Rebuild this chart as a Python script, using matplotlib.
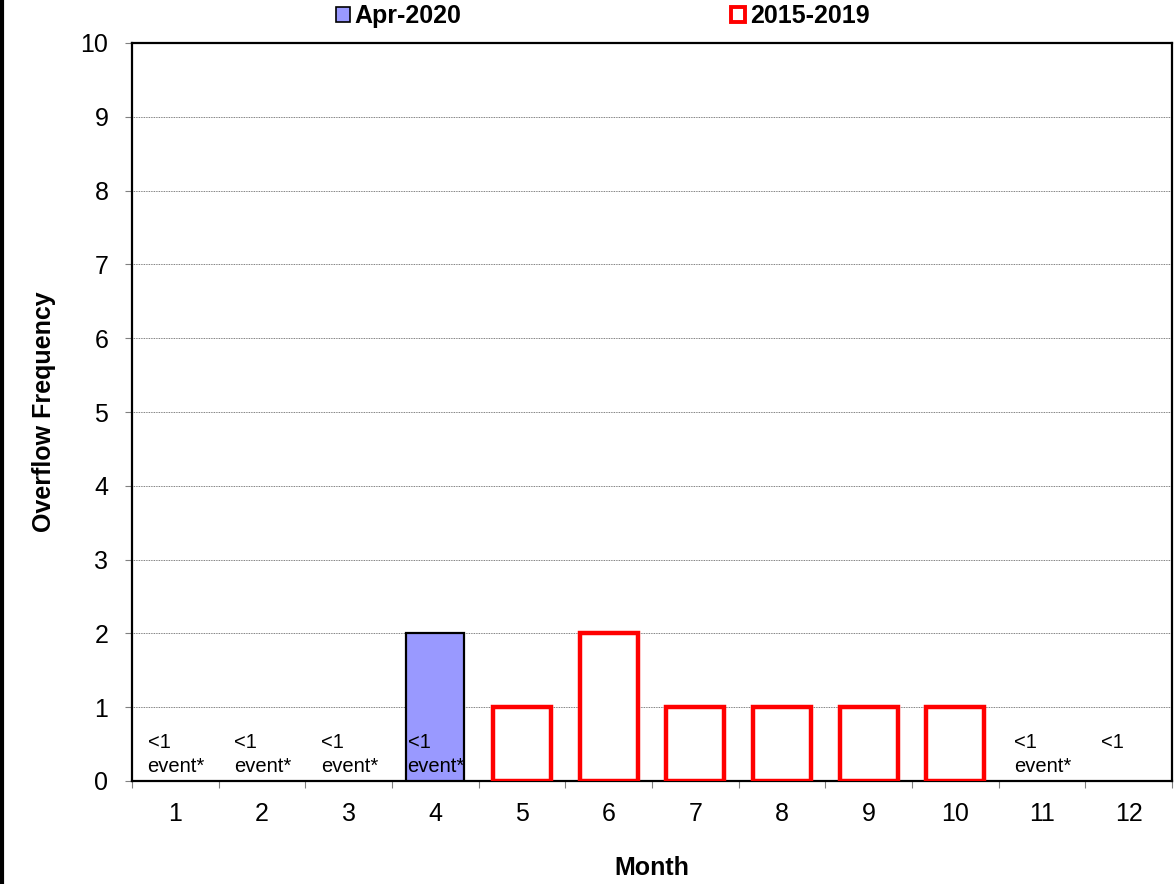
import matplotlib
matplotlib.use("Agg")
import matplotlib.pyplot as plt
from matplotlib.patches import Patch
from matplotlib.lines import Line2D
import numpy as np

months = list(range(1, 13))
apr2020 = [np.nan, np.nan, np.nan, 2, np.nan, np.nan, np.nan, np.nan, np.nan, np.nan, np.nan, np.nan]
hist_2015_2019 = [np.nan, np.nan, np.nan, np.nan, 1, 2, 1, 1, 1, 1, np.nan, np.nan]
notes = ["<1\nevent*", "<1\nevent*", "<1\nevent*", "<1\nevent*", "", "", "", "", "", "",
         "<1\nevent*", "<1"]
yticks = list(range(0, 11))

plt.rcParams['font.family'] = ['Liberation Sans', 'DejaVu Sans']

fig = plt.figure(figsize=(11.75, 8.84), dpi=100)
ax = fig.add_axes([132/1175, 1-781/884, (1172-132)/1175, (781-43)/884])

ax.bar(months, apr2020, width=0.67, color='#9999ff', edgecolor='black', linewidth=1.6, zorder=3)
ax.bar(months, hist_2015_2019, width=0.67, facecolor='white', edgecolor='#ff0000', linewidth=3.2, zorder=3)

for m, t in zip(months, notes):
    if t:
        ax.text(m - 0.32, 0.65, t, ha='left', va='top', fontsize=14.5, linespacing=1.32, zorder=4)

ax.set_xlim(0.5, 12.5)
ax.set_ylim(0, 10)
ax.set_yticks(yticks)
ax.set_xticks(months)
ax.set_xticks(np.arange(0.5, 13, 1), minor=True)
ax.tick_params(axis='x', which='major', length=0, pad=15, labelsize=18)
ax.tick_params(axis='x', which='minor', length=5, color='#808080', width=0.8)
ax.tick_params(axis='y', which='major', length=5, color='#808080', width=0.8, pad=12, labelsize=18)
ax.yaxis.grid(True, linestyle=(0, (1, 1)), color='#555555', linewidth=0.6, zorder=0)
ax.set_axisbelow(True)
for s in ax.spines.values():
    s.set_linewidth(1.6)
    s.set_color('black')

ax.set_xlabel("Month", fontsize=18, fontweight='bold', labelpad=22)
ax.set_ylabel("Overflow Frequency", fontsize=18, fontweight='bold', labelpad=18)

handles = [Patch(facecolor='#9999ff', edgecolor='black', linewidth=1.2),
           Patch(facecolor='white', edgecolor='#ff0000', linewidth=2.8)]
fig.legend(handles, ["Apr-2020", "2015-2019"], loc='center', bbox_to_anchor=(0.513, 1-16/884),
           ncol=2, frameon=False, prop={'weight': 'bold', 'size': 18},
           handlelength=0.55, handleheight=0.55, handletextpad=0.2, columnspacing=10.8)

fig.add_artist(Line2D([0.0015, 0.0015], [0, 1], transform=fig.transFigure, color='black', linewidth=3))

fig.savefig("out.png", dpi=100)
